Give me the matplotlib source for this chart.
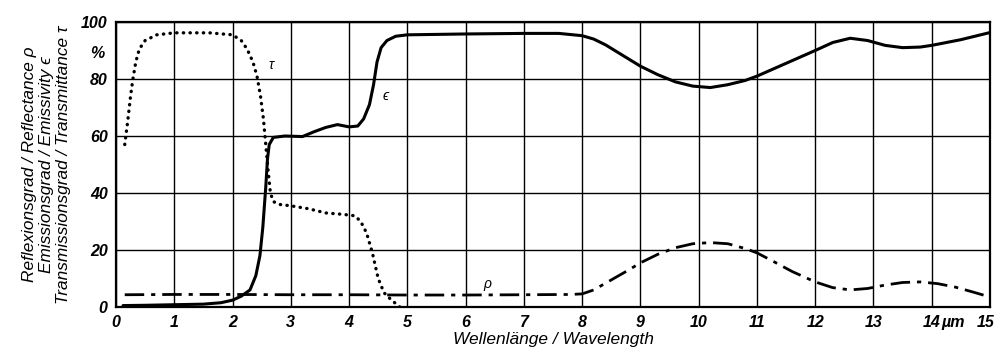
import matplotlib
matplotlib.use("Agg")
import matplotlib.pyplot as plt
import matplotlib.transforms as mtransforms

# emissivity (solid)
eps_x = [0.12, 0.5, 1.0, 1.5, 1.8, 2.0, 2.15, 2.3, 2.4, 2.47, 2.52, 2.57, 2.6, 2.63, 2.7, 2.9,
         3.2, 3.4, 3.6, 3.8, 4.0, 4.15, 4.25, 4.35, 4.42, 4.48, 4.55, 4.65, 4.8, 5.0, 6.0, 7.0,
         7.6, 8.0, 8.2, 8.4, 8.6, 8.8, 9.0, 9.3, 9.6, 9.9, 10.2, 10.5, 10.8, 11.0, 11.5, 12.0,
         12.3, 12.6, 12.9, 13.2, 13.5, 13.8, 14.0, 14.5, 15.0]
eps_y = [0.5, 0.6, 0.8, 1.0, 1.5, 2.4, 3.8, 6, 11, 18, 28, 42, 52, 57, 59.5, 60,
         59.8, 61.5, 63, 64, 63.2, 63.5, 66, 71, 78, 86, 91, 93.5, 95, 95.5, 95.8, 96,
         96, 95.2, 94, 92, 89.5, 87, 84.5, 81.5, 79, 77.5, 77, 78, 79.5, 81, 85.5, 90,
         92.8, 94.3, 93.5, 91.8, 91, 91.2, 91.8, 93.8, 96.3]

# transmittance (dotted)
tau_x = [0.15, 0.2, 0.25, 0.29, 0.34, 0.4, 0.5, 0.7, 1.0, 1.6, 2.0, 2.15, 2.25, 2.35, 2.42,
         2.48, 2.53, 2.57, 2.61, 2.65, 2.7, 2.8, 3.0, 3.3, 3.6, 3.9, 4.1, 4.2, 4.3, 4.4, 4.5,
         4.6, 4.7, 4.8, 4.87]
tau_y = [57, 65, 74, 80, 86, 90.5, 93.5, 95.5, 96.2, 96.2, 95.5, 93.5, 90.5, 86, 81,
         74, 66, 57, 48, 40, 37, 36, 35.5, 34.5, 33, 32.5, 32, 30, 26, 19, 10,
         5, 3, 1.2, 0]

# reflectance (dash-dot)
rho_x = [0.15, 1, 2, 3, 4, 5, 6, 7, 7.8, 8.0, 8.2, 8.5, 8.8, 9.0, 9.3, 9.6, 9.9, 10.2,
         10.5, 10.8, 11.0, 11.3, 11.6, 12.0, 12.3, 12.6, 12.9, 13.2, 13.5, 13.8, 14.1,
         14.4, 14.7, 15.0]
rho_y = [4.3, 4.4, 4.4, 4.3, 4.3, 4.2, 4.2, 4.3, 4.4, 4.6, 6, 9.5, 13, 15.5, 18.5, 20.8,
         22.2, 22.6, 22.2, 20.5, 19, 15.8, 12.5, 8.8, 6.8, 6, 6.5, 7.7, 8.6, 8.8, 8.2,
         7, 5.3, 3.5]

x_ticks = list(range(16))
y_ticks = [0, 20, 40, 60, 80, 100]

plt.rcParams['font.family'] = ['Liberation Sans', 'DejaVu Sans']

fig = plt.figure(figsize=(9.97, 3.56), dpi=100)
ax = fig.add_axes([116/997, 1 - 307/356, (990 - 116)/997, (307 - 22)/356])

ax.plot(eps_x, eps_y, color='black', lw=2.2, solid_capstyle='round')
ax.plot(tau_x, tau_y, color='black', lw=2.4, linestyle=(0, (0.1, 1.9)),
        dash_capstyle='round')
ax.plot(rho_x, rho_y, color='black', lw=2.0, linestyle=(0, (7, 2.5, 1.5, 2.5)))

ax.set_xlim(0, 15)
ax.set_ylim(0, 100)
ax.set_xticks(x_ticks)
ax.set_yticks(y_ticks)
tick_font = dict(fontstyle='italic', fontweight='bold', fontsize=11.5)
ax.set_xticklabels([str(t) for t in x_ticks], **tick_font)
ax.set_yticklabels([str(t) for t in y_ticks], **tick_font)
ax.tick_params(length=0, pad=6)
ax.grid(True, color='black', lw=1.0)
for s in ax.spines.values():
    s.set_linewidth(1.6)

# last x label sits a little left of its gridline, as in the source
last = ax.get_xticklabels()[-1]
last.set_horizontalalignment('right')
last.set_transform(last.get_transform() + mtransforms.ScaledTranslation(4/100, 0, fig.dpi_scale_trans))

ax.text(-0.32, 89, '%', ha='center', va='center', **tick_font)
ax.text(14.36, -2.8, 'µm', ha='center', va='top', **tick_font)

ax.text(2.62, 85, 'τ', fontsize=10, fontstyle='italic', va='center')
ax.text(4.58, 74, 'ϵ', fontsize=10, fontstyle='italic', va='center')
ax.text(6.3, 8, 'ρ', fontsize=10, fontstyle='italic', va='center')

ax.set_xlabel('Wellenlänge / Wavelength', fontstyle='italic', fontsize=12.5, labelpad=1)
ax.set_ylabel('Reflexionsgrad / Reflectance ρ\nEmissionsgrad / Emissivity ϵ\n'
              'Transmissionsgrad / Transmittance τ', fontstyle='italic', fontsize=12.4,
              linespacing=1.2, labelpad=7)

fig.savefig('out.png', dpi=100)
